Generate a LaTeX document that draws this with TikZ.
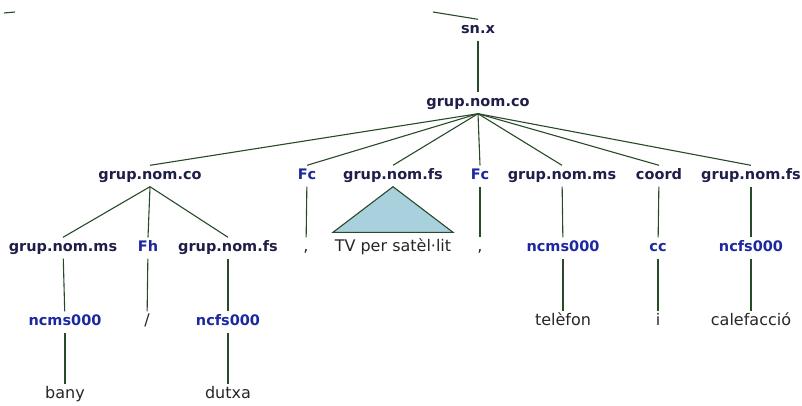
\documentclass[tikz,border=0pt]{standalone}
\usepackage{fontspec}
\setmainfont{DejaVu Sans}
\usepackage{tikz}
\usetikzlibrary{calc}

\definecolor{catcol}{HTML}{1E1E48}
\definecolor{tagcol}{HTML}{1C28A0}
\definecolor{branchcol}{HTML}{284A28}
\definecolor{tricol}{HTML}{A9D1DD}

\begin{document}
\begin{tikzpicture}[x=1pt, y=-1pt, every node/.style={inner sep=4pt, text height=10pt, text depth=3pt}]
\tikzset{cat/.style={font=\bfseries\fontsize{14.5}{16}\selectfont, text=catcol},
         tag/.style={font=\bfseries\fontsize{14.5}{16}\selectfont, text=tagcol},
         word/.style={font=\fontsize{16}{18}\selectfont, text=black!85},
         branch/.style={draw=branchcol, line width=1.1pt}}
\useasboundingbox (0,0) rectangle (802,405);
% top levels
\node[cat] (snx) at (478,30) {sn.x};
\node[cat] (co) at (478,103) {grup.nom.co};
% second level
\node[cat] (co2) at (150,176) {grup.nom.co};
\node[tag] (fc1) at (307,176) {Fc};
\node[cat] (fs1) at (393,176) {grup.nom.fs};
\node[tag] (fc2) at (480,176) {Fc};
\node[cat] (ms2) at (562,176) {grup.nom.ms};
\node[cat] (crd) at (659,176) {coord};
\node[cat] (fs3) at (751,176) {grup.nom.fs};
% third level
\node[cat] (ms1) at (63,248) {grup.nom.ms};
\node[tag] (fh) at (148,248) {Fh};
\node[cat] (fs2) at (228,248) {grup.nom.fs};
\node[word] (cm1) at (306,248) {,};
\node[word] (tv) at (393,248) {TV per satèl·lit};
\node[word] (cm2) at (480,248) {,};
\node[tag] (nc2) at (563,248) {ncms000};
\node[tag] (cc) at (658,248) {cc};
\node[tag] (nf2) at (751,248) {ncfs000};
% fourth level
\node[tag] (nc1) at (65,322) {ncms000};
\node[word] (sl) at (147,322) {/};
\node[tag] (nf1) at (228,322) {ncfs000};
\node[word] (tel) at (563,322) {telèfon};
\node[word] (conj) at (658,322) {i};
\node[word] (cal) at (751,322) {calefacció};
% leaves
\node[word] (bany) at (65,395) {bany};
\node[word] (dutxa) at (228,395) {dutxa};
% stray pieces at the top
\coordinate (up) at (433,12);
\coordinate (tl1) at (4,13);
\coordinate (tl2) at (15,12);
\draw[branch] (tl1) -- (tl2);
\draw[branch] (up) -- (snx.north);
% connectors
\draw[branch] (snx) -- (co);
\foreach \c in {co2,fc1,fs1,fc2,ms2,crd,fs3}
  \draw[branch] (co.south) -- (\c.north);
\foreach \c in {ms1,fh,fs2}
  \draw[branch] (co2.south) -- (\c.north);
\draw[branch] (fc1) -- (cm1);
\draw[branch] (fc2) -- (cm2);
\draw[branch, fill=tricol] (fs1.south) -- ($(tv.north)+(-60,-5)$) -- ($(tv.north)+(60,-5)$) -- cycle;
\draw[branch] (ms2) -- (nc2);
\draw[branch] (crd) -- (cc);
\draw[branch] (fs3) -- (nf2);
\draw[branch] (ms1) -- (nc1);
\draw[branch] (fh) -- (sl);
\draw[branch] (fs2) -- (nf1);
\draw[branch] (nc2) -- (tel);
\draw[branch] (cc) -- (conj);
\draw[branch] (nf2) -- (cal);
\draw[branch] (nc1) -- (bany);
\draw[branch] (nf1) -- (dutxa);
\end{tikzpicture}
\end{document}
